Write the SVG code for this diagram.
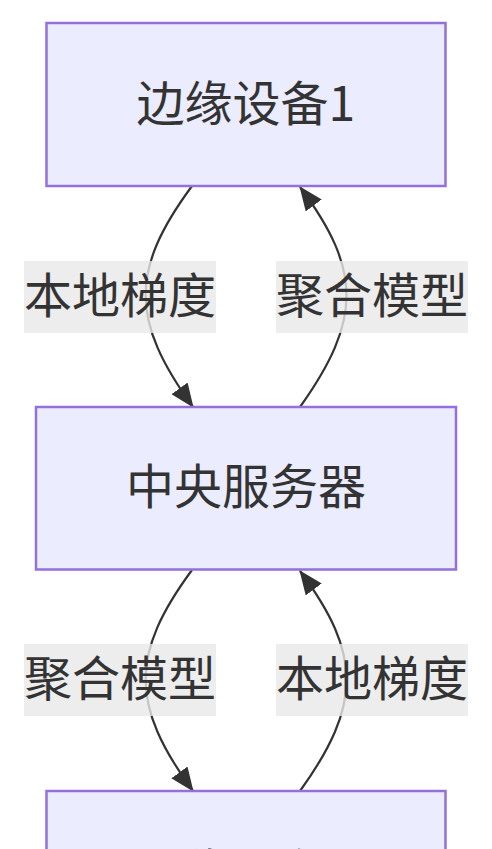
<svg xmlns="http://www.w3.org/2000/svg" width="492" height="849" viewBox="0 0 492 849">
<style>
.node rect{fill:#ECECFF;stroke:#9370DB;stroke-width:2.5}
.node text,.label text{font-family:"Noto Sans CJK SC","Noto Sans",sans-serif;font-size:48px;fill:#333;text-anchor:middle}
.edge{fill:none;stroke:#333;stroke-width:2.2}
.label rect{fill:rgba(232,232,232,0.8)}
</style>
<defs>
<marker id="arrow" markerUnits="userSpaceOnUse" markerWidth="24" markerHeight="20" viewBox="0 0 24 20" refX="23" refY="10" orient="auto">
<path d="M0,0 L24,10 L0,20 z" fill="#333"/>
</marker>
</defs>
<rect width="492" height="849" fill="#fff"/>
<g id="connectors">
<path class="edge" d="M192,186 C130,270 130,320 193,407" marker-end="url(#arrow)"/>
<path class="edge" d="M300,407 C362,320 362,270 300,187" marker-end="url(#arrow)"/>
<path class="edge" d="M192,570 C130,654 130,705 193,791" marker-end="url(#arrow)"/>
<path class="edge" d="M300,791 C362,705 362,654 300,571" marker-end="url(#arrow)"/>
</g>
<g id="labels">
<g class="label" id="label1"><rect x="24" y="261" width="192" height="72"/><text x="120" y="313">本地梯度</text></g>
<g class="label" id="label2"><rect x="276" y="261" width="192" height="72"/><text x="372" y="313">聚合模型</text></g>
<g class="label" id="label3"><rect x="24" y="644" width="192" height="72"/><text x="120" y="696">聚合模型</text></g>
<g class="label" id="label4"><rect x="276" y="644" width="192" height="72"/><text x="372" y="696">本地梯度</text></g>
</g>
<g class="node" id="edge1"><rect x="46.5" y="23" width="399" height="163"/><text x="245.75" y="120.5">边缘设备1</text></g>
<g class="node" id="server"><rect x="36" y="407" width="420" height="162.5"/><text x="246" y="504">中央服务器</text></g>
<g class="node" id="edge2"><rect x="46.5" y="791" width="399" height="163"/><text x="245.75" y="888.5">边缘设备2</text></g>
</svg>
